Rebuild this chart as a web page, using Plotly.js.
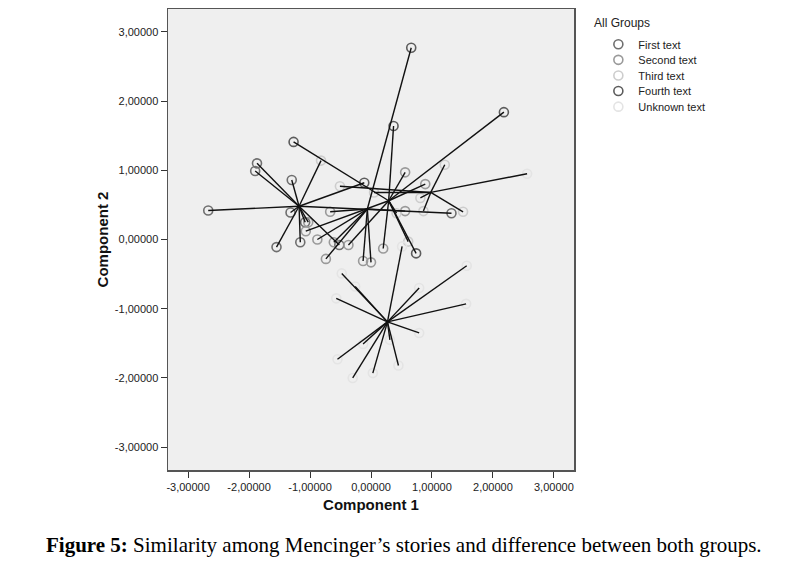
<!DOCTYPE html>
<html>
<head>
<meta charset="utf-8">
<script src="https://cdn.plot.ly/plotly-3.0.1.min.js"></script>
<style>
  html, body { margin: 0; padding: 0; background: #fff; }
  #chart { width: 800px; height: 566px; }
</style>
</head>
<body>
<div id="chart"></div>
<script>
// Groups shown in the legend
const groups = ["First text", "Second text", "Third text", "Fourth text", "Unknown text"];

// Group centroids (Component 1, Component 2)
const centroidX = [-1.18, 0.29, -0.06, 0.98, 0.27];
const centroidY = [0.48, 0.56, 0.44, 0.68, -1.19];

// Cases: position, group (index in groups) and centroid they are tied to
const pointX = [
  -2.67, -1.87, -1.90, -1.30, -0.82, -1.32, -1.55, -1.16, -1.08, -1.03, -0.52, -0.11, 1.32,
  0.37, 2.18, -1.27, 0.56, 0.89, 0.74, 0.20, 0.61, -1.07, -0.37, 0.42,
  0.66, 0.56, -0.67, -0.88, -0.61, -0.74, -0.13, 0.00,
  2.56, 1.21, 0.86, 1.51, 0.81, -0.51, 0.05,
  -0.48, -0.26, 0.51, 0.79, 1.57, 1.56, 0.79, -0.57, -0.55, -0.13, -0.30, 0.03, 0.45, 0.31
];
const pointY = [
  0.42, 1.10, 0.99, 0.86, 1.14, 0.39, -0.11, -0.04, 0.25, 0.25, -0.08, 0.82, 0.38,
  1.64, 1.84, 1.41, 0.97, 0.80, -0.20, -0.13, -0.03, 0.12, -0.08, 0.38,
  2.77, 0.41, 0.40, 0.00, -0.04, -0.28, -0.31, -0.33,
  0.95, 1.08, 0.41, 0.40, 0.60, 0.77, 0.68,
  -0.49, -0.68, -0.10, -0.70, -0.38, -0.93, -1.35, -0.85, -1.73, -1.51, -2.00, -1.93, -1.82, -1.45
];
const pointGroup = [
  0, 0, 0, 0, 2, 0, 0, 0, 0, 1, 0, 3, 0,
  3, 3, 3, 1, 1, 3, 1, 2, 1, 1, 2,
  3, 1, 1, 1, 1, 1, 1, 1,
  4, 2, 2, 2, 2, 2, 2,
  4, 4, 4, 4, 4, 4, 4, 4, 4, 4, 4, 4, 4, 4
];
const pointCentroid = [
  0, 0, 0, 0, 0, 0, 0, 0, 0, 0, 0, 0, 0,
  1, 1, 1, 1, 1, 1, 1, 1, 1, 1, 1,
  2, 2, 2, 2, 2, 2, 2, 2,
  3, 3, 3, 3, 3, 3, 3,
  4, 4, 4, 4, 4, 4, 4, 4, 4, 4, 4, 4, 4, 4
];

// Axis ticks
const tickVals = [-3, -2, -1, 0, 1, 2, 3];
const tickText = ["-3,00000", "-2,00000", "-1,00000", "0,00000", "1,00000", "2,00000", "3,00000"];

const legendTitle = "All Groups";
const caption = "<b>Figure 5:</b> Similarity among Mencinger\u2019s stories and difference between both groups.";

const groupColors = ["#6f6f6f", "#9a9a9a", "#cdcdcd", "#5c5c5c", "#e4e4e4"];
const fontFamily = "Liberation Sans, Arial, sans-serif";

const traces = [];

// circles per group (these make the legend)
groups.forEach((name, g) => {
  const gx = [], gy = [];
  pointX.forEach((px, i) => {
    if (pointGroup[i] === g) { gx.push(px); gy.push(pointY[i]); }
  });
  traces.push({
    x: gx, y: gy, name: name,
    type: "scatter", mode: "markers",
    marker: { symbol: "circle-open", size: 9, color: groupColors[g], line: { width: 1.6 } }
  });
});

// lines from each case to its centroid, drawn over the circles
centroidX.forEach((cx, c) => {
  const lx = [], ly = [];
  pointX.forEach((px, i) => {
    if (pointCentroid[i] !== c) return;
    lx.push(cx, px, null);
    ly.push(centroidY[c], pointY[i], null);
  });
  traces.push({
    x: lx, y: ly,
    type: "scatter", mode: "lines",
    line: { color: "#111", width: 1.4 },
    showlegend: false, hoverinfo: "skip"
  });
});

const axisCommon = {
  range: [-3.33, 3.33],
  tickmode: "array",
  tickvals: tickVals,
  ticktext: tickText,
  ticks: "outside",
  ticklen: 6,
  tickwidth: 1,
  tickcolor: "#333",
  showline: true,
  linecolor: "#555",
  linewidth: 1.5,
  mirror: true,
  showgrid: false,
  zeroline: false,
  tickfont: { family: fontFamily, size: 11, color: "#222" }
};

const layout = {
  width: 800,
  height: 566,
  margin: { l: 168, r: 226, t: 9, b: 96 },
  paper_bgcolor: "#fff",
  plot_bgcolor: "#efefef",
  font: { family: fontFamily, color: "#222" },
  xaxis: Object.assign({}, axisCommon, {
    title: { text: "<b>Component 1</b>", font: { family: fontFamily, size: 15, color: "#111" }, standoff: 8 }
  }),
  yaxis: Object.assign({}, axisCommon, {
    title: { text: "<b>Component 2</b>", font: { family: fontFamily, size: 15, color: "#111" }, standoff: 2 }
  }),
  showlegend: true,
  legend: {
    x: 1.06, xanchor: "left",
    y: 0.955, yanchor: "top",
    bgcolor: "rgba(0,0,0,0)",
    font: { family: fontFamily, size: 11, color: "#222" },
    tracegroupgap: 0
  },
  annotations: [
    {
      text: legendTitle,
      xref: "paper", yref: "paper",
      x: (592 - 168) / 406, xanchor: "left",
      y: (470 - 23) / 461, yanchor: "middle",
      showarrow: false,
      font: { family: fontFamily, size: 12, color: "#222" }
    },
    {
      text: caption,
      xref: "paper", yref: "paper",
      x: (44 - 168) / 406, xanchor: "left",
      y: (470 - 545) / 461, yanchor: "middle",
      showarrow: false,
      font: { family: "Liberation Serif, Times New Roman, serif", size: 21, color: "#000" }
    }
  ]
};

Plotly.newPlot("chart", traces, layout, { displayModeBar: false, staticPlot: true }).then(gd => {
  // SPSS legend rows are tighter than plotly's minimum row height
  const items = gd.querySelectorAll(".legend .traces");
  if (!items.length) return;
  const first = /translate\(([-\d.]+),\s*([-\d.]+)\)/.exec(items[0].getAttribute("transform") || "");
  if (!first) return;
  const x0 = parseFloat(first[1]);
  const y0 = parseFloat(first[2]);
  items.forEach((el, i) => {
    el.setAttribute("transform", `translate(${x0},${y0 + i * 15.6})`);
  });
});
</script>
</body>
</html>
